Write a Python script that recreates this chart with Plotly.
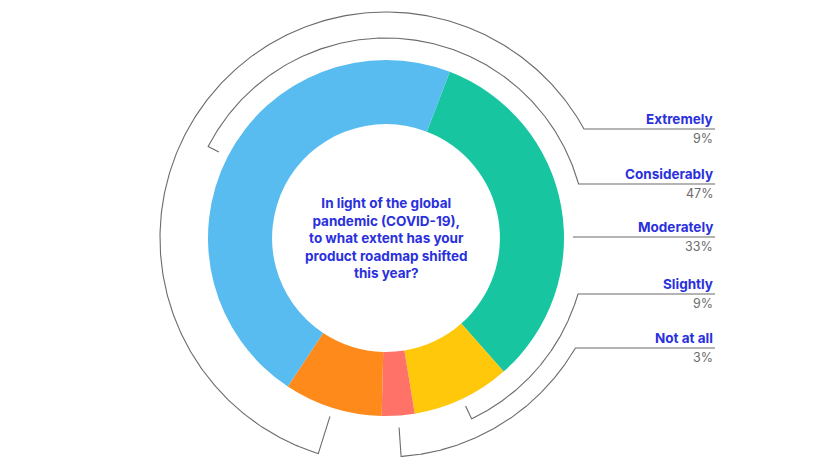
import numpy as np
import plotly.graph_objects as go

# survey answers, in the order the donut draws them (clockwise from the green slice)
answers = ["Moderately", "Slightly", "Not at all", "Extremely", "Considerably"]
shares = [33, 9, 3, 9, 47]
slice_colors = ["#17C6A0", "#FFC80B", "#FF7268", "#FF8A1C", "#58BCF0"]

# labels on the right, top to bottom
label_order = ["Extremely", "Considerably", "Moderately", "Slightly", "Not at all"]

question = ("In light of the global<br>pandemic (COVID-19),<br>to what extent has your"
            "<br>product roadmap shifted<br>this year?")

# the page body has an 8px margin, so the figure is made 8px smaller and the
# pixel axes start at 8 -> coordinates below are window pixels
OFF = 8
W, H = 825, 468
cx, cy, R = 386, 238, 178
rotation = 21
label_x = 715
line_y = {"Extremely": 129, "Considerably": 184, "Moderately": 237, "Slightly": 294, "Not at all": 348}
# bracket radius, tick inner radius, direction (None -> plain line)
bracket = {"Extremely": (226, 187, "up"), "Considerably": (200, 188, "up"),
           "Moderately": None, "Slightly": (200, 186, "down"), "Not at all": (219, 190, "down")}

BLUE = "#2A30DC"
GREY = "#6b6b6b"
FONT = "Inter"

fw, fh = W - OFF, H - OFF
fig = go.Figure()
fig.add_trace(go.Pie(
    values=shares, labels=answers, sort=False, direction="clockwise", rotation=rotation,
    hole=0.64, marker=dict(colors=slice_colors), textinfo="none", hoverinfo="skip",
    showlegend=False,
    domain=dict(x=[(cx - OFF - R) / fw, (cx - OFF + R) / fw],
                y=[(H - cy - R) / fh, (H - cy + R) / fh]),
))


def pt(ang, r):
    a = np.radians(ang)
    return cx + r * np.sin(a), cy - r * np.cos(a)


total = sum(shares)
cum = np.cumsum([0] + shares[:-1])
mid = {a: rotation + (c + v / 2) / total * 360 for a, c, v in zip(answers, cum, shares)}

for name in label_order:
    y = line_y[name]
    b = bracket[name]
    if b is None:
        xs, ys = [573, label_x], [y, y]
    else:
        r, r_in, side = b
        end = np.degrees(np.arccos((cy - y) / r))  # angle on the right side
        m = mid[name]
        if side == "up":
            # clockwise from the slice middle, over the top, to the right side
            angs = np.linspace(m, end + 360, 300)
        else:
            angs = np.linspace(m, end, 200)
        ax_, ay_ = pt(angs, r)
        tx, ty = pt(m, r_in)
        xs = [tx] + list(ax_) + [label_x]
        ys = [ty] + list(ay_) + [y]
    fig.add_trace(go.Scatter(x=xs, y=ys, mode="lines", line=dict(color=GREY, width=1.1),
                             hoverinfo="skip", showlegend=False))
    fig.add_annotation(x=label_x, y=y, text="<b>%s</b>" % name, showarrow=False,
                       xanchor="right", yanchor="bottom",
                       font=dict(family=FONT, size=13.5, color=BLUE))
    fig.add_annotation(x=label_x, y=y, text="%d%%" % shares[answers.index(name)], showarrow=False,
                       xanchor="right", yanchor="top",
                       font=dict(family=FONT, size=12.5, color=GREY))

fig.add_annotation(x=cx, y=cy, text="<b>%s</b>" % question, showarrow=False,
                   xanchor="center", yanchor="middle",
                   font=dict(family=FONT, size=13.5, color=BLUE))

fig.update_layout(
    width=fw, height=fh, margin=dict(l=0, r=0, t=0, b=0),
    paper_bgcolor="white", plot_bgcolor="white",
    xaxis=dict(range=[OFF, W], visible=False, fixedrange=True),
    yaxis=dict(range=[H, OFF], visible=False, fixedrange=True),
)
fig.write_html("out.html")
